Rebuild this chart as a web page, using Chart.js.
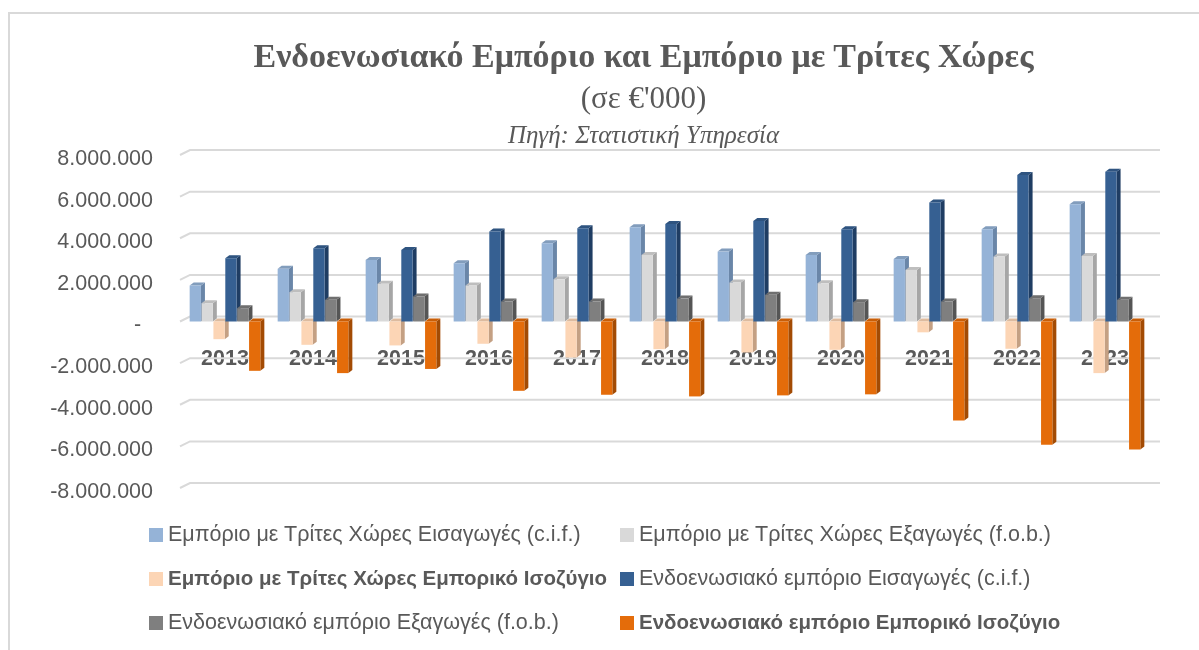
<!DOCTYPE html>
<html>
<head>
<meta charset="utf-8">
<script src="https://cdn.jsdelivr.net/npm/chart.js@4.4.0/dist/chart.umd.min.js"></script>
<style>
  body { margin: 0; background: #fff; }
  #frame {
    position: absolute; left: 8px; top: 12px; width: 1191px; height: 640px;
    border-left: 2px solid #d9d9d9; border-top: 2px solid #d9d9d9;
  }
  #wrap { position: absolute; left: 0; top: 0; width: 1199px; height: 650px; }
  .t { position: absolute; left: 0; width: 1287px; text-align: center; color: #595959; font-family: "Liberation Serif", serif; }
  #t1 { top: 37px; font-size: 34px; font-weight: bold; }
  #t2 { top: 80px; font-size: 31px; }
  #t3 { top: 121px; font-size: 25px; font-style: italic; }
  #legend { position: absolute; left: 0; top: 522px; width: 1199px; font-family: "Liberation Sans", sans-serif; font-size: 21.5px; color: #595959; }
  .row { position: absolute; left: 0; height: 26px; width: 1199px; }
  .item { position: absolute; white-space: nowrap; }
  .item.b { font-weight: bold; font-size: 20.5px; }
  .item i { display: inline-block; width: 14px; height: 14px; margin-right: 5px; vertical-align: -1px; }
</style>
</head>
<body>
<div id="frame"></div>
<div id="wrap"><canvas id="chart" width="1199" height="650"></canvas></div>
<div class="t" id="t1">Ενδοενωσιακό Εμπόριο και Εμπόριο με Τρίτες Χώρες</div>
<div class="t" id="t2">(σε €'000)</div>
<div class="t" id="t3">Πηγή: Στατιστική Υπηρεσία</div>
<div id="legend"></div>
<script>
  const years = ['2013', '2014', '2015', '2016', '2017', '2018', '2019', '2020', '2021', '2022', '2023'];

  const tcImports = [1730000, 2530000, 2960000, 2800000, 3760000, 4530000, 3360000, 3200000, 3000000, 4430000, 5630000];
  const tcExports = [880000, 1410000, 1810000, 1730000, 2030000, 3200000, 1870000, 1840000, 2480000, 3120000, 3150000];
  const tcBalance = [-850000, -1120000, -1150000, -1070000, -1730000, -1330000, -1490000, -1360000, -520000, -1310000, -2480000];
  const euImports = [3040000, 3520000, 3440000, 4320000, 4480000, 4690000, 4830000, 4430000, 5720000, 7040000, 7200000];
  const euExports = [640000, 1040000, 1200000, 960000, 960000, 1100000, 1280000, 930000, 960000, 1120000, 1040000];
  const euBalance = [-2370000, -2480000, -2280000, -3330000, -3520000, -3600000, -3550000, -3500000, -4760000, -5920000, -6150000];

  const yTicks = [-8000000, -6000000, -4000000, -2000000, 0, 2000000, 4000000, 6000000, 8000000];

  const series = [
    { label: 'Εμπόριο με Τρίτες Χώρες Εισαγωγές (c.i.f.)', data: tcImports, color: '#95b3d7', side: '#6a86a8', bold: false },
    { label: 'Εμπόριο με Τρίτες Χώρες Εξαγωγές (f.o.b.)', data: tcExports, color: '#d9d9d9', side: '#a6a6a6', bold: false },
    { label: 'Εμπόριο με Τρίτες Χώρες Εμπορικό Ισοζύγιο', data: tcBalance, color: '#fcd5b5', side: '#c4a083', bold: true },
    { label: 'Ενδοενωσιακό εμπόριο Εισαγωγές (c.i.f.)', data: euImports, color: '#366092', side: '#1f3d63', bold: false },
    { label: 'Ενδοενωσιακό εμπόριο Εξαγωγές (f.o.b.)', data: euExports, color: '#7f7f7f', side: '#555555', bold: false },
    { label: 'Ενδοενωσιακό εμπόριο Εμπορικό Ισοζύγιο', data: euBalance, color: '#e46c0a', side: '#a34b04', bold: true }
  ];

  function fmt(v) {
    if (v === 0) return '-  ';
    const s = Math.abs(v).toString().replace(/\B(?=(\d{3})+(?!\d))/g, '.');
    return (v < 0 ? '-' : '') + s;
  }

  // gridlines on the back wall + 3D side/top faces of the bars
  const depth = { dx: 4, dy: -3 };
  const backdrop = {
    id: 'backdrop',
    beforeDatasetsDraw(chart) {
      const ctx = chart.ctx;
      const area = chart.chartArea;
      const ys = chart.scales.y;
      ctx.save();
      ctx.strokeStyle = '#d9d9d9';
      ctx.lineWidth = 2;
      yTicks.forEach(v => {
        const py = ys.getPixelForValue(v);
        ctx.beginPath();
        ctx.moveTo(area.left - 1, py);
        ctx.lineTo(area.left + 9, py - 5);
        ctx.lineTo(area.right + 11, py - 5);
        ctx.stroke();
      });

      chart.data.datasets.forEach((ds, di) => {
        const meta = chart.getDatasetMeta(di);
        meta.data.forEach(bar => {
          const w = bar.width;
          const l = bar.x - w / 2, r = bar.x + w / 2;
          const top = Math.min(bar.y, bar.base), bot = Math.max(bar.y, bar.base);
          ctx.fillStyle = series[di].side;
          ctx.beginPath();
          ctx.moveTo(r, top);
          ctx.lineTo(r + depth.dx, top + depth.dy);
          ctx.lineTo(r + depth.dx, bot + depth.dy);
          ctx.lineTo(r, bot);
          ctx.closePath();
          ctx.fill();
          ctx.fillStyle = series[di].color;
          ctx.beginPath();
          ctx.moveTo(l, top);
          ctx.lineTo(l + depth.dx, top + depth.dy);
          ctx.lineTo(r + depth.dx, top + depth.dy);
          ctx.lineTo(r, top);
          ctx.closePath();
          ctx.fill();
          ctx.fillStyle = 'rgba(0,0,0,0.12)';
          ctx.fill();
        });
      });
      ctx.restore();
    }
  };

  const chart = new Chart(document.getElementById('chart'), {
    type: 'bar',
    data: {
      labels: years,
      datasets: series.map(s => ({
        label: s.label,
        data: s.data,
        backgroundColor: s.color,
        categoryPercentage: 0.81,
        barPercentage: 0.95
      }))
    },
    options: {
      responsive: false,
      animation: false,
      layout: { padding: { left: 10, right: 50, top: 155, bottom: 162 } },
      plugins: { legend: { display: false }, tooltip: { enabled: false } },
      scales: {
        x: {
          position: { y: 0 },
          grid: { display: false, drawTicks: false },
          border: { display: false },
          ticks: { color: '#595959', padding: 25, font: { family: 'Liberation Sans', size: 21.5, weight: 'bold' } }
        },
        y: {
          min: -8000000,
          max: 8000000,
          afterFit: s => { s.width = 171; },
          afterBuildTicks: s => { s.ticks = yTicks.map(v => ({ value: v })); },
          grid: { display: false, drawTicks: false },
          border: { display: false },
          ticks: {
            color: '#595959', padding: 28, labelOffset: 4,
            font: { family: 'Liberation Sans', size: 21.5 },
            callback: v => fmt(v)
          }
        }
      }
    },
    plugins: [backdrop]
  });

  // legend, two columns by three rows
  const legend = document.getElementById('legend');
  const colLefts = [149, 620];
  for (let r = 0; r < 3; r++) {
    const row = document.createElement('div');
    row.className = 'row';
    row.style.top = (r * 44) + 'px';
    for (let c = 0; c < 2; c++) {
      const s = series[r * 2 + c];
      const it = document.createElement('span');
      it.className = s.bold ? 'item b' : 'item';
      it.style.left = colLefts[c] + 'px';
      it.innerHTML = '<i style="background:' + s.color + '"></i>' + s.label;
      row.appendChild(it);
    }
    legend.appendChild(row);
  }
</script>
</body>
</html>
